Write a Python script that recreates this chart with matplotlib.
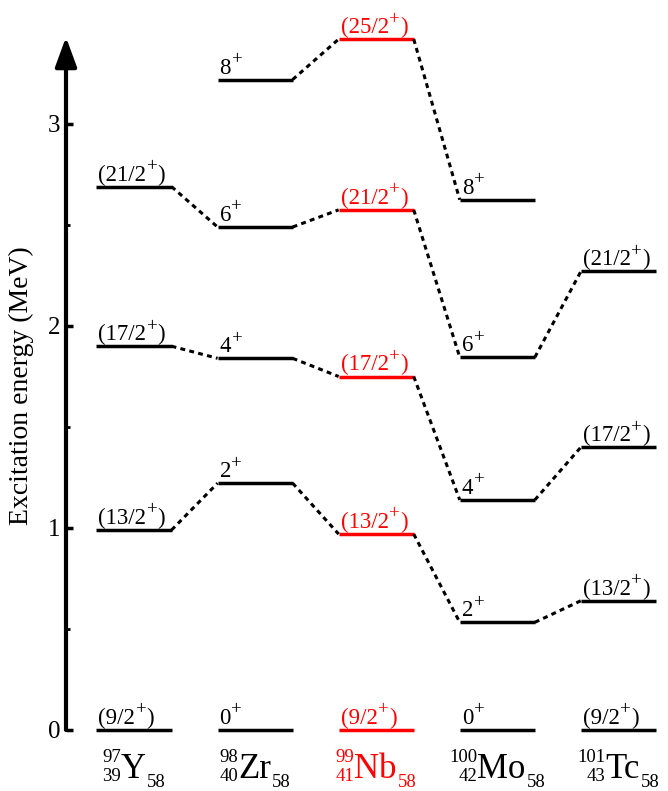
import matplotlib
matplotlib.use("Agg")
import matplotlib.pyplot as plt

plt.rcParams['font.family'] = ['Liberation Serif', 'DejaVu Serif']

# ---- data ----
symbols = ['Y', 'Zr', 'Nb', 'Mo', 'Tc']
mass_numbers = ['97', '98', '99', '100', '101']
proton_numbers = ['39', '40', '41', '42', '43']
neutron_number = '58'
colors = ['black', 'black', 'red', 'black', 'black']

Y_energy = [0.0, 0.99, 1.90, 2.69]
Y_spin = ['(9/2+)', '(13/2+)', '(17/2+)', '(21/2+)']
Zr_energy = [0.0, 1.222, 1.84, 2.49, 3.22]
Zr_spin = ['0+', '2+', '4+', '6+', '8+']
Nb_energy = [0.0, 0.97, 1.75, 2.575, 3.42]
Nb_spin = ['(9/2+)', '(13/2+)', '(17/2+)', '(21/2+)', '(25/2+)']
Mo_energy = [0.0, 0.533, 1.139, 1.845, 2.625]
Mo_spin = ['0+', '2+', '4+', '6+', '8+']
Tc_energy = [0.0, 0.64, 1.40, 2.27]
Tc_spin = ['(9/2+)', '(13/2+)', '(17/2+)', '(21/2+)']

energies = [Y_energy, Zr_energy, Nb_energy, Mo_energy, Tc_energy]
spins = [Y_spin, Zr_spin, Nb_spin, Mo_spin, Tc_spin]

yticks_major = [0, 1, 2, 3]
yticks_minor = [0.5, 1.5, 2.5]
ylabel = 'Excitation energy (MeV)'

# ---- figure ----
W, H = 668, 791
fig = plt.figure(figsize=(W / 100, H / 100), dpi=100)
ax_left_px = 66
zero_px = 730
px_per_mev = 202
col_px = 121.1
first_col_px = 134
ax = fig.add_axes([ax_left_px / W, (H - zero_px) / H,
                   (W - ax_left_px) / W, 3.5 * px_per_mev / H])
x0 = (ax_left_px - first_col_px) / col_px
ax.set_xlim(x0, (W - first_col_px) / col_px)
ax.set_ylim(0, 3.5)
for s in ax.spines.values():
    s.set_visible(False)
ax.set_xticks([])
ax.set_yticks(yticks_major)
ax.set_yticks(yticks_minor, minor=True)
ax.set_yticklabels([str(t) for t in yticks_major])
ax.tick_params(axis='y', which='major', direction='in', length=5, width=2.5,
               labelsize=18, pad=4)
ax.tick_params(axis='y', which='minor', direction='in', length=3, width=2)

# axis arrow
ax.annotate('', xy=(x0, 3.43), xytext=(x0, 0), xycoords='data',
            arrowprops=dict(arrowstyle='-|>,head_length=0.9,head_width=0.33',
                            lw=3, color='black', shrinkA=0, shrinkB=0,
                            mutation_scale=20),
            annotation_clip=False)

fig.text(21 / W, 1 - 386 / H, ylabel, rotation=90, ha='center', va='center',
         fontsize=20)

fig.canvas.draw()
r = fig.canvas.get_renderer()


def wpx(s, fs):
    t = fig.text(0, 0, s, fontsize=fs)
    w = t.get_window_extent(r).width
    t.remove()
    return w


pt = 0.72
fs_lab, fs_plus = 16.5, 13.5
half = 0.31
for i, (E, J, c) in enumerate(zip(energies, spins, colors)):
    for e, j in zip(E, J):
        ax.plot([i - half, i + half], [e, e], color=c, lw=2.5,
                solid_capstyle='butt', clip_on=False)
        base, tail = j.split('+')
        kw = dict(xy=(i - half, e), textcoords='offset points', ha='left',
                  va='baseline', color=c, annotation_clip=False)
        xb = 2.0
        yb = 6.0
        ax.annotate(base, xytext=(xb * pt, yb * pt), fontsize=fs_lab, **kw)
        xp = xb + wpx(base, fs_lab) + 0.5
        ax.annotate('+', xytext=(xp * pt, (yb + 9.5) * pt), fontsize=fs_plus, **kw)
        if tail:
            xt = xp + wpx('+', fs_plus) + 0.0
            ax.annotate(tail, xytext=(xt * pt, yb * pt), fontsize=fs_lab, **kw)

# connectors
for i in range(len(energies) - 1):
    a, b = energies[i], energies[i + 1]
    for k in range(1, min(len(a), len(b))):
        ax.plot([i + half, i + 1 - half], [a[k], b[k]], color='black', lw=2.2,
                linestyle=(0, (1.6, 1.4)), clip_on=False)

# nuclide labels
fs_el, fs_sc = 25, 13.5
for i, (sym, A, Z, c) in enumerate(zip(symbols, mass_numbers, proton_numbers, colors)):
    pre = max(wpx(A, fs_sc), wpx(Z, fs_sc))
    we = wpx(sym, fs_el)
    wn = wpx(neutron_number, fs_sc)
    gap = 1.0
    total = pre + we + gap + wn
    left = -total / 2
    xe = left + pre
    kw = dict(xy=(i, 0), textcoords='offset points', va='baseline', color=c,
              annotation_clip=False)
    ax.annotate(A, xytext=(xe * pt, -32 * pt), ha='right', fontsize=fs_sc, **kw)
    ax.annotate(Z, xytext=(xe * pt, -51 * pt), ha='right', fontsize=fs_sc, **kw)
    ax.annotate(sym, xytext=(xe * pt, -48 * pt), ha='left', fontsize=fs_el, **kw)
    ax.annotate(neutron_number, xytext=((xe + we + gap) * pt, -57 * pt),
                ha='left', fontsize=fs_sc, **kw)

fig.savefig('out.png', dpi=100)
